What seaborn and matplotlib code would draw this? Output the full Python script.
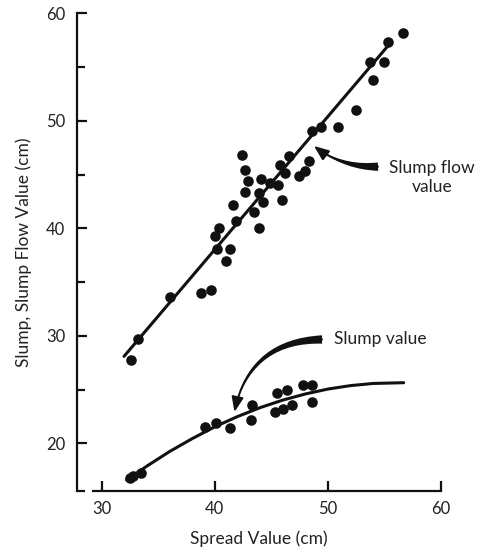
import matplotlib
matplotlib.use("Agg")
import matplotlib.pyplot as plt
import seaborn as sns
import pandas as pd

# ---- data ----
flow_x = [32.6, 33.2, 36.0, 38.8, 39.7, 41.0, 40.15, 41.3, 40.0, 40.4, 41.9, 43.9,
          41.6, 43.5, 42.7, 43.9, 44.3, 45.9, 42.4, 42.65, 42.9, 44.1, 44.9, 45.6,
          45.75, 46.6, 46.2, 47.4, 48.0, 48.3, 48.55, 49.4, 50.9, 52.5, 54.0, 53.7,
          55.0, 55.3, 56.6]
flow_y = [27.8, 29.7, 33.6, 34.0, 34.3, 37.0, 38.05, 38.1, 39.3, 40.05, 40.65, 40.0,
          42.15, 41.5, 43.4, 43.25, 42.45, 42.65, 46.8, 45.4, 44.45, 44.55, 44.25, 44.05,
          45.9, 46.75, 45.15, 44.85, 45.35, 46.25, 49.1, 49.4, 49.4, 51.0, 53.8, 55.5,
          55.5, 57.3, 58.15]

slump_x = [32.5, 32.8, 33.5, 39.1, 40.1, 41.3, 43.25, 43.2, 45.5, 46.4, 45.3, 46.05,
           46.8, 47.8, 48.6, 48.55]
slump_y = [16.75, 17.0, 17.25, 21.5, 21.9, 21.4, 23.6, 22.15, 24.7, 25.0, 22.9, 23.2,
           23.6, 25.45, 25.45, 23.9]

flow_fit_x = [31.97, 55.29]
flow_fit_y = [28.1, 56.95]

slump_fit_x = [32.2, 34.0, 36.0, 38.0, 40.0, 42.0, 44.0, 46.0, 48.0, 50.0, 52.0, 54.0, 56.7]
slump_fit_y = [16.6, 17.9, 19.25, 20.45, 21.55, 22.5, 23.33, 24.03, 24.6, 25.06, 25.38, 25.58, 25.65]

x_ticks = [30, 40, 50, 60]
y_ticks = [20, 30, 40, 50, 60]
y_minor = [25, 35, 45, 55]

x_label = "Spread Value (cm)"
y_label = "Slump, Slump Flow Value (cm)"
flow_text = "Slump flow\nvalue"
slump_text = "Slump value"

# ---- style ----
sns.set_theme(style="ticks")
plt.rcParams["font.family"] = ["Lato", "DejaVu Sans"]

fig = plt.figure(figsize=(4.84, 5.54), dpi=100)
ax = fig.add_axes([76.5 / 484, 63 / 554, (441 - 76.5) / 484, (491 - 13.3) / 554])

ink = "#111111"
flow_df = pd.DataFrame({"x": flow_x, "y": flow_y})
slump_df = pd.DataFrame({"x": slump_x, "y": slump_y})

sns.scatterplot(data=flow_df, x="x", y="y", ax=ax, color=ink, s=58, linewidth=0,
                clip_on=False, zorder=3)
sns.scatterplot(data=slump_df, x="x", y="y", ax=ax, color=ink, s=58, linewidth=0,
                clip_on=False, zorder=3)
sns.lineplot(x=flow_fit_x, y=flow_fit_y, ax=ax, color=ink, lw=2.2, sort=False)
sns.lineplot(x=slump_fit_x, y=slump_fit_y, ax=ax, color=ink, lw=2.2, sort=False)

y_bottom = 15.58
ax.set_xlim(27.77, 60)
ax.set_ylim(y_bottom, 60)

for s in ["top", "right"]:
    ax.spines[s].set_visible(False)
ax.spines["left"].set_bounds(y_bottom, 60)
ax.spines["bottom"].set_bounds(29.2, 60)
for s in ["left", "bottom"]:
    ax.spines[s].set_linewidth(1.6)
    ax.spines[s].set_color(ink)
    ax.spines[s].set_capstyle("projecting")

ax.set_xticks(x_ticks)
ax.set_yticks(y_ticks)
ax.set_yticks(y_minor + [y_bottom], minor=True)
ax.tick_params(axis="both", which="major", direction="in", length=7.5, width=1.6,
               color=ink, labelsize=12, labelcolor="#222222")
ax.tick_params(axis="y", which="minor", direction="in", length=6, width=1.6, color=ink)
ax.tick_params(axis="x", pad=7)
ax.tick_params(axis="y", pad=8)

ax.set_xlabel(x_label, fontsize=12.5, color="#222222")
ax.set_ylabel(y_label, fontsize=12.5, color="#222222")
ax.xaxis.set_label_coords(0.5, -0.082)
ax.xaxis.label.set_va("top")
ax.yaxis.set_label_coords(-0.122, 0.5)

# ---- annotations ----
def curved_arrow(tail, head, rad):
    ax.annotate("", xy=head, xytext=tail,
                arrowprops=dict(arrowstyle="wedge,tail_width=0.3,shrink_factor=0.5",
                                connectionstyle=f"arc3,rad={rad}", color=ink, lw=0,
                                shrinkA=0, shrinkB=6, mutation_scale=20))
    ax.annotate("", xy=head, xytext=tail,
                arrowprops=dict(arrowstyle="-|>,head_length=0.45,head_width=0.18",
                                connectionstyle=f"arc3,rad={rad}", color=ink, lw=1.4,
                                shrinkA=0, shrinkB=0, mutation_scale=20))

curved_arrow((54.43, 45.74), (48.77, 47.66), -0.18)
curved_arrow((49.48, 29.67), (41.74, 22.93), 0.4)

ax.text(59.2, 44.75, flow_text, ha="center", va="center", fontsize=12.5,
        color="#222222", linespacing=1.25, clip_on=False)
ax.text(50.5, 29.75, slump_text, ha="left", va="center", fontsize=12.5,
        color="#222222", clip_on=False)

fig.savefig("out.png", dpi=100)
